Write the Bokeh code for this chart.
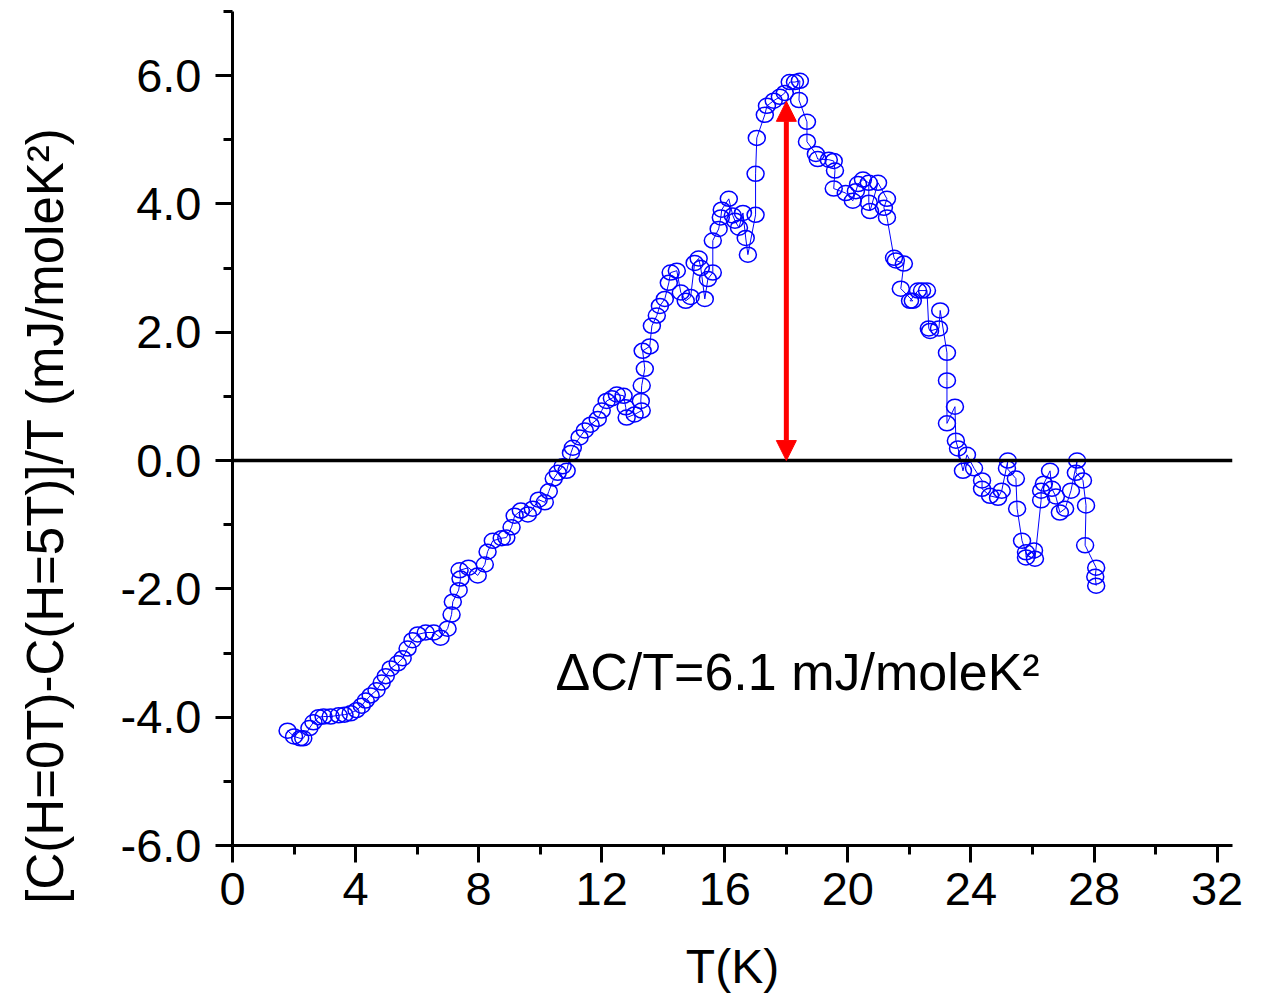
import math
from bokeh.plotting import figure
from bokeh.layouts import row
from bokeh.models import Span, Arrow, NormalHead, FixedTicker, PrintfTickFormatter, ColumnDataSource
from bokeh.core.properties import value
from bokeh.embed import file_html
from bokeh.resources import INLINE

# Temperature (K)
T = [1.79, 2.0, 2.2, 2.3, 2.5, 2.63, 2.8, 2.96, 3.19, 3.45, 3.64, 3.84, 4.03, 4.2, 4.33,
     4.49, 4.68, 4.85, 4.98, 5.14, 5.37, 5.53, 5.69, 5.85, 6.02, 6.28, 6.54, 6.76, 6.99,
     7.12, 7.16, 7.35, 7.41, 7.38, 7.67, 7.97, 8.2, 8.29, 8.46, 8.75, 8.9, 9.07, 9.17,
     9.37, 9.6, 9.76, 9.95, 10.15, 10.28, 10.44, 10.57, 10.73, 10.86, 11.0, 11.06, 11.28,
     11.45, 11.64, 11.87, 12.0, 12.16, 12.33, 12.49, 12.71, 12.78, 12.81, 13.07, 13.3,
     13.27, 13.3, 13.4, 13.33, 13.56, 13.63, 13.79, 13.89, 14.05, 14.18, 14.24, 14.44,
     14.57, 14.73, 14.89, 15.02, 15.15, 15.22, 15.35, 15.45, 15.61, 15.61, 15.8, 15.87,
     15.9, 16.13, 16.26, 16.33, 16.46, 16.59, 16.68, 16.75, 17.0, 17.0, 17.04, 17.3,
     17.37, 17.59, 17.79, 17.95, 18.11, 18.28, 18.44, 18.41, 18.67, 18.67, 18.96, 19.02,
     19.38, 19.54, 19.58, 19.54, 19.93, 20.16, 20.26, 20.33, 20.49, 20.68, 20.68, 20.72,
     20.98, 21.27, 21.17, 21.27, 21.5, 21.56, 21.82, 21.72, 22.11, 22.02, 22.28, 22.41,
     22.57, 22.63, 22.67, 22.96, 23.0, 23.22, 23.22, 23.22, 23.48, 23.51, 23.58, 23.74,
     23.87, 24.1, 24.36, 24.36, 24.62, 24.88, 25.0, 25.2, 25.17, 25.46, 25.5, 25.66,
     25.79, 25.79, 26.05, 26.08, 26.28, 26.28, 26.37, 26.57, 26.63, 26.76, 26.89, 27.06,
     27.25, 27.45, 27.41, 27.64, 27.74, 27.71, 28.07, 28.04, 28.07]

# [C(H=0T)-C(H=5T)]/T (mJ/moleK^2)
dCT = [-4.21, -4.3, -4.33, -4.33, -4.17, -4.08, -4.0, -3.99, -3.99, -3.97, -3.96, -3.94,
       -3.89, -3.82, -3.74, -3.66, -3.58, -3.46, -3.36, -3.24, -3.16, -3.08, -2.93, -2.8,
       -2.71, -2.68, -2.68, -2.76, -2.62, -2.4, -2.2, -2.02, -1.84, -1.71, -1.67, -1.79,
       -1.62, -1.42, -1.25, -1.21, -1.2, -1.04, -0.86, -0.78, -0.84, -0.75, -0.61, -0.65,
       -0.48, -0.28, -0.19, -0.09, -0.16, 0.12, 0.2, 0.36, 0.47, 0.56, 0.65, 0.78, 0.93,
       0.97, 1.03, 1.01, 0.83, 0.67, 0.72, 0.78, 0.93, 1.17, 1.43, 1.71, 1.78, 2.1, 2.26,
       2.41, 2.52, 2.77, 2.93, 2.96, 2.62, 2.49, 2.55, 3.08, 3.15, 3.0, 2.52, 2.83, 2.93,
       3.43, 3.61, 3.79, 3.91, 4.08, 3.82, 3.74, 3.63, 3.86, 3.47, 3.21, 3.83, 4.47, 5.03,
       5.39, 5.53, 5.61, 5.67, 5.73, 5.9, 5.9, 5.92, 5.62, 5.28, 4.97, 4.78, 4.7, 4.69,
       4.67, 4.52, 4.24, 4.17, 4.05, 4.2, 4.31, 4.38, 4.33, 4.02, 3.89, 4.33, 4.08, 3.94,
       3.79, 3.16, 3.12, 3.07, 2.68, 2.49, 2.49, 2.65, 2.65, 2.65, 2.06, 2.02, 2.06, 2.34,
       1.68, 1.25, 0.58, 0.84, 0.31, 0.19, -0.16, 0.09, -0.12, -0.31, -0.44, -0.55, -0.58,
       -0.47, 0.0, -0.12, -0.28, -0.75, -1.25, -1.43, -1.51, -1.4, -1.53, -0.62, -0.47,
       -0.36, -0.16, -0.44, -0.56, -0.81, -0.75, -0.47, 0.0, -0.19, -0.31, -0.7, -1.32,
       -1.67, -1.81, -1.95]

x_ticks = [0, 4, 8, 12, 16, 20, 24, 28, 32]
x_minor = [2, 6, 10, 14, 18, 22, 26, 30]
y_ticks = [-6, -4, -2, 0, 2, 4, 6]
y_minor = [-5, -3, -1, 1, 3, 5, 7]

arrow_T = 18.0
arrow_top = 5.6
annotation = "\u0394C/T=6.1 mJ/moleK\u00b2"
x_title = "T(K)"
y_title = "[C(H=0T)-C(H=5T)]/T (mJ/moleK\u00b2)"

FONT = "Liberation Sans"
LABEL_W = 90

# narrow strip holding the rotated y-axis title (frame not aligned with the main plot)
lab = figure(width=LABEL_W, height=998, x_range=(0, LABEL_W), y_range=(0, 998),
             output_backend="svg", toolbar_location=None, min_border=0)
lab.frame_align = False
lab.axis.visible = False
lab.grid.visible = False
lab.outline_line_color = None
lab.text(x=[45], y=[998 - 515], text=[y_title], angle=math.pi / 2,
         text_font=value(FONT), text_font_size="51px", text_color="black",
         text_align="center", text_baseline="middle")

p = figure(width=1262 - LABEL_W, height=998, x_range=(0, 32.5), y_range=(-6, 7.0),
           output_backend="svg", toolbar_location=None,
           min_border_left=232 - LABEL_W, min_border_right=30, min_border_top=11, min_border_bottom=153)
p.outline_line_color = None
p.xgrid.visible = False
p.ygrid.visible = False
p.background_fill_color = "white"

src = ColumnDataSource(dict(x=T, y=dCT))
p.line("x", "y", source=src, line_color="#0000FF", line_width=1)
p.ellipse("x", "y", source=src, width=17, height=15, width_units="screen", height_units="screen",
          fill_color=None, line_color="#0000FF", line_width=1.5)

p.add_layout(Span(location=0, dimension="width", line_color="black", line_width=3.5))

p.add_layout(Arrow(x_start=arrow_T, y_start=0, x_end=arrow_T, y_end=arrow_top,
                   line_color="red", line_width=5,
                   start=NormalHead(size=20, fill_color="red", line_color="red"),
                   end=NormalHead(size=20, fill_color="red", line_color="red")))

p.text(x=[10.5], y=[-3.3], text=[annotation], text_font=value(FONT), text_font_size="52px",
       text_color="black", text_baseline="alphabetic", text_align="left")

for ax in (p.xaxis[0], p.yaxis[0]):
    ax.axis_line_width = 3
    ax.axis_line_color = "black"
    ax.major_tick_line_width = 3
    ax.minor_tick_line_width = 3
    ax.major_tick_out = 17
    ax.major_tick_in = 0
    ax.minor_tick_out = 9
    ax.minor_tick_in = 0
    ax.major_label_text_font = FONT
    ax.major_label_text_font_size = "47px"
    ax.major_label_text_color = "black"
    ax.axis_label_text_font = FONT
    ax.axis_label_text_font_style = "normal"
    ax.axis_label_text_color = "black"

p.xaxis.ticker = FixedTicker(ticks=x_ticks, minor_ticks=x_minor)
p.yaxis.ticker = FixedTicker(ticks=y_ticks, minor_ticks=y_minor)
p.yaxis.formatter = PrintfTickFormatter(format="%.1f")
p.xaxis.axis_label = x_title
p.xaxis.axis_label_text_font_size = "48px"
p.xaxis.major_label_standoff = 10
p.yaxis.major_label_standoff = 14
p.xaxis.axis_label_standoff = 32

layout = row(lab, p, spacing=0)
open("out.html", "w").write(file_html(layout, INLINE))
